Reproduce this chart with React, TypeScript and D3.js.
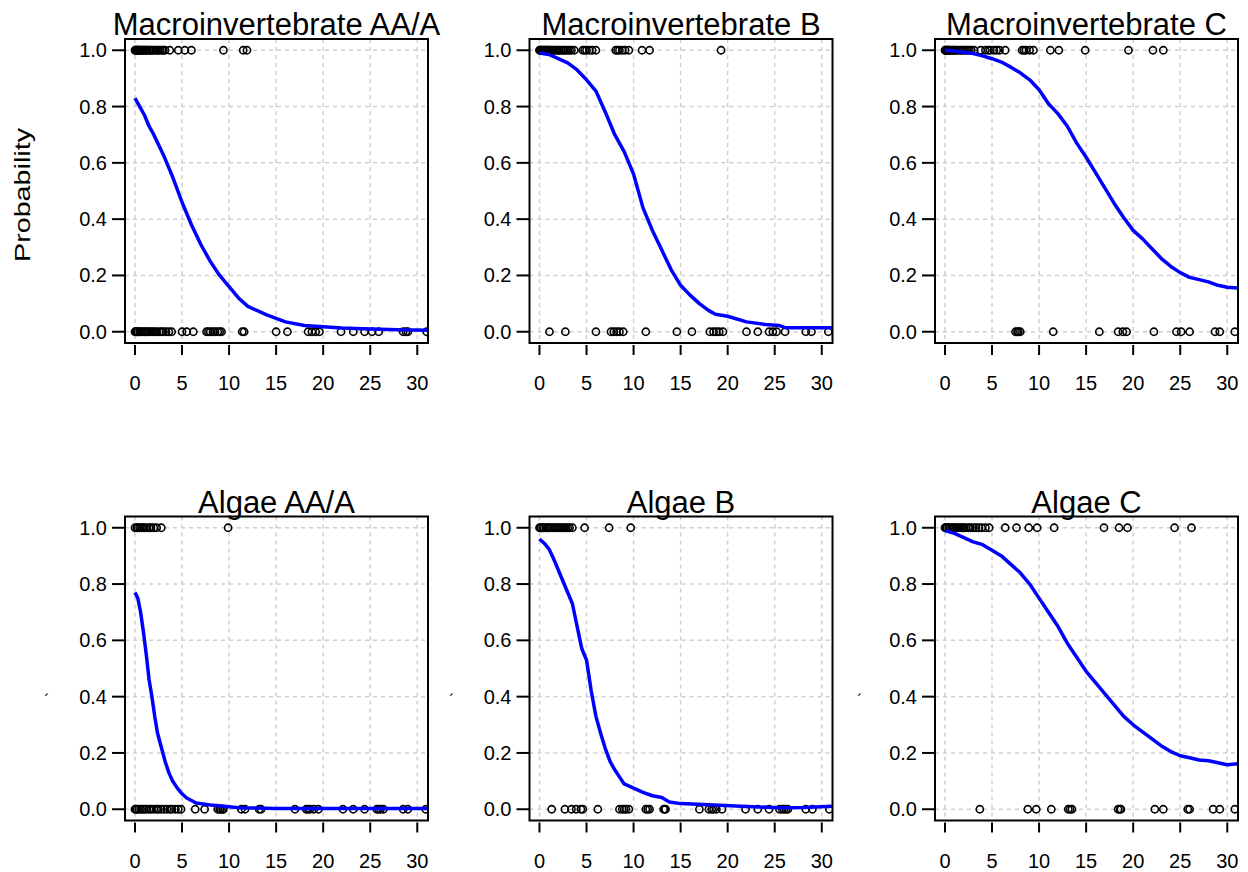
import React from "react";
import * as d3 from "d3";

// ---------- data ----------
const titles = ["Macroinvertebrate AA/A", "Macroinvertebrate B", "Macroinvertebrate C", "Algae AA/A", "Algae B", "Algae C"];
const xTicks = [0, 5, 10, 15, 20, 25, 30];
const yTicks = [0, 0.2, 0.4, 0.6, 0.8, 1.0];
const yTickLabels = ["0.0", "0.2", "0.4", "0.6", "0.8", "1.0"];

const macroAA_present = [0,0.05,0.1,0.2,0.25,0.3,0.4,0.5,0.6,0.7,0.8,0.9,1.0,1.1,1.2,1.3,1.5,1.6,1.7,1.9,2.0,2.2,2.4,2.5,2.7,2.9,3.0,3.2,3.7,4.6,5.3,6.0,9.4,11.5,11.9];
const macroAA_absent = [0,0.1,0.2,0.3,0.5,0.6,0.8,1.0,1.1,1.3,1.5,1.7,1.9,2.1,2.3,2.6,2.8,3.0,3.3,3.6,3.9,5.0,5.5,6.2,7.6,7.8,8.0,8.3,8.5,8.8,9.0,9.2,11.4,11.6,15.0,16.2,18.4,18.8,19.2,19.6,21.9,23.2,24.4,25.2,25.9,28.5,28.8,29.0,31.0];
const macroAA_curveX = [0,0.5,1,1.5,2,3,4,5,6,7,8,9,10,11,12,14,16,18,20,22,25,28,31.2];
const macroAA_curveY = [0.83,0.80,0.77,0.73,0.70,0.63,0.55,0.46,0.38,0.31,0.25,0.20,0.16,0.12,0.09,0.06,0.035,0.022,0.018,0.013,0.01,0.007,0.005];

const macroB_present = [0,0.05,0.1,0.2,0.3,0.4,0.5,0.6,0.7,0.8,0.9,1.0,1.1,1.2,1.4,1.5,1.7,1.8,2.0,2.1,2.3,2.5,2.6,2.8,3.0,3.2,3.4,3.7,4.6,4.8,5.0,5.3,5.6,6.0,8.1,8.3,8.5,8.8,9.1,9.5,10.9,11.7,19.3];
const macroB_absent = [1.06,2.75,6.0,7.6,7.9,8.2,8.5,8.9,11.3,14.6,16.2,18.1,18.5,18.8,19.1,19.5,22.0,23.2,24.4,24.8,25.2,26.1,28.3,28.9,30.7];
const macroB_curveX = [0,1,2,3,4,5,6,7,8,9,10,11,12,13,14,15,16,17,18,18.7,20,22,24,25.5,26.2,31.2];
const macroB_curveY = [0.99,0.985,0.97,0.955,0.93,0.895,0.855,0.78,0.70,0.64,0.56,0.44,0.36,0.29,0.22,0.165,0.13,0.10,0.075,0.062,0.055,0.035,0.026,0.022,0.014,0.014];

const macroC_present = [0,0.05,0.1,0.2,0.3,0.4,0.5,0.6,0.8,0.9,1.0,1.2,1.3,1.5,1.7,1.8,2.0,2.2,2.4,2.6,2.8,3.1,3.8,4.3,4.6,4.8,5.2,5.5,5.8,6.4,8.2,8.4,8.6,9.0,9.4,11.2,12.1,14.9,19.5,22.1,23.2];
const macroC_absent = [7.5,7.7,7.8,8.0,11.5,16.4,18.4,18.9,19.3,22.2,24.6,25.1,26.0,28.7,29.2,30.8];
const macroC_curveX = [0,1,2,3,4,5,6,7,8,9,10,11,12,13,14,15,16,17,18,19,20,21,22,23,24,25,26,27,28,29,30,31.2];
const macroC_curveY = [1.0,0.997,0.993,0.988,0.98,0.97,0.958,0.94,0.92,0.895,0.86,0.81,0.775,0.73,0.67,0.62,0.565,0.51,0.455,0.405,0.36,0.33,0.295,0.26,0.232,0.21,0.193,0.185,0.177,0.165,0.158,0.155];

const algaeAA_present = [0,0.2,0.3,0.5,0.7,0.9,1.0,1.2,1.5,1.7,2.0,2.3,2.8,9.9];
const algaeAA_absent = [0,0.1,0.2,0.4,0.6,0.8,1.0,1.2,1.5,1.7,2.0,2.3,2.5,2.8,3.1,3.4,3.7,3.9,4.3,4.6,4.9,6.4,7.4,8.8,9.0,9.1,9.3,9.4,11.3,11.7,13.2,13.4,17.0,18.2,18.4,18.6,19.0,19.5,22.1,23.2,24.4,25.7,25.9,26.1,26.4,28.5,29.0,30.9];
const algaeAA_curveX = [0,0.3,0.6,0.9,1.2,1.5,1.8,2.1,2.4,2.8,3.2,3.6,4.0,4.5,5,5.5,6.5,8,9.5,11,15,20,25,31.2];
const algaeAA_curveY = [0.77,0.75,0.70,0.63,0.55,0.46,0.40,0.33,0.27,0.22,0.17,0.13,0.10,0.075,0.055,0.04,0.022,0.015,0.011,0.005,0.003,0.003,0.003,0.003];

const algaeB_present = [0,0.1,0.2,0.4,0.5,0.7,0.9,1.0,1.2,1.4,1.6,1.8,2.0,2.2,2.4,2.6,2.8,3.0,3.2,3.5,4.8,7.4,9.7];
const algaeB_absent = [1.3,2.7,3.4,3.9,4.4,4.6,6.2,8.5,8.8,9.0,9.2,9.5,11.3,11.5,11.7,13.2,13.3,13.4,17.0,18.0,18.3,18.5,18.8,19.4,21.9,23.2,24.4,25.5,25.8,26.0,26.2,26.4,28.3,29.0,30.8];
const algaeB_curveX = [0,0.5,1,1.5,2,2.5,3,3.5,4,4.5,5,5.5,6,6.5,7,7.5,8,8.5,9,10,11,12,13,13.8,15,18,22,25.5,28,31.2];
const algaeB_curveY = [0.96,0.945,0.925,0.89,0.85,0.81,0.77,0.73,0.65,0.57,0.53,0.42,0.33,0.27,0.215,0.17,0.14,0.115,0.09,0.075,0.06,0.048,0.042,0.026,0.02,0.016,0.01,0.005,0.006,0.011];

const algaeC_present = [0,0.1,0.2,0.4,0.5,0.7,0.9,1.0,1.2,1.4,1.6,1.8,2.0,2.2,2.5,2.7,3.0,3.3,3.6,3.9,4.3,4.7,6.4,7.6,8.9,9.8,11.6,16.9,18.5,19.4,24.4,26.2];
const algaeC_absent = [3.7,8.8,9.7,11.3,13.1,13.3,13.5,18.4,18.6,18.7,22.3,23.2,25.8,26.0,28.5,29.2,30.8];
const algaeC_curveX = [0,1,2,3,4,5,6,7,8,9,10,11,12,13,14,15,16,17,18,19,20,21,22,23,24,25,26,27,28,29,30,31.2];
const algaeC_curveY = [0.99,0.98,0.965,0.95,0.94,0.92,0.9,0.87,0.84,0.8,0.75,0.7,0.65,0.59,0.54,0.49,0.45,0.41,0.37,0.33,0.30,0.275,0.25,0.225,0.205,0.19,0.183,0.175,0.172,0.165,0.158,0.162];

const presentSets = [macroAA_present, macroB_present, macroC_present, algaeAA_present, algaeB_present, algaeC_present];
const absentSets = [macroAA_absent, macroB_absent, macroC_absent, algaeAA_absent, algaeB_absent, algaeC_absent];
const curveXs = [macroAA_curveX, macroB_curveX, macroC_curveX, algaeAA_curveX, algaeB_curveX, algaeC_curveX];
const curveYs = [macroAA_curveY, macroB_curveY, macroC_curveY, algaeAA_curveY, algaeB_curveY, algaeC_curveY];

// ---------- layout ----------
const W = 1248, H = 872;
const boxLefts = [125, 529.5, 935];
const boxTops = [39, 516.5];
const boxW = 303, boxH = 304;
const FONT = "'Liberation Sans', Arial, Helvetica, sans-serif";

function Panel({ idx }: { idx: number }) {
  const col = idx % 3, row = Math.floor(idx / 3);
  const left = boxLefts[col], top = boxTops[row];
  const x = d3.scaleLinear().domain([-1.06, 31.14]).range([left, left + boxW]);
  const y = d3.scaleLinear().domain([-0.04, 1.04]).range([top + boxH, top]);
  const line = d3.line<[number, number]>().x(d => x(d[0])).y(d => y(d[1])).curve(d3.curveLinear);
  const cx = curveXs[idx], cy = curveYs[idx];
  const pts: [number, number][] = cx.map((v, i) => [v, cy[i]]);
  const bottom = top + boxH;
  return (
    <g>
      <defs>
        <clipPath id={`clip${idx}`}>
          <rect x={left} y={top} width={boxW} height={boxH} />
        </clipPath>
      </defs>
      {xTicks.map(t => (
        <line key={"gx" + t} x1={x(t)} x2={x(t)} y1={top} y2={bottom} stroke="#cfcfcf" strokeWidth={1.5} strokeDasharray="4,4" />
      ))}
      {yTicks.map(t => (
        <line key={"gy" + t} x1={left} x2={left + boxW} y1={y(t)} y2={y(t)} stroke="#cfcfcf" strokeWidth={1.5} strokeDasharray="4,4" />
      ))}
      <g clipPath={`url(#clip${idx})`}>
        {presentSets[idx].map((v, i) => (
          <circle key={"p" + i} cx={x(v)} cy={y(1)} r={3.6} fill="none" stroke="#000" strokeWidth={1.6} />
        ))}
        {absentSets[idx].map((v, i) => (
          <circle key={"a" + i} cx={x(v)} cy={y(0)} r={3.6} fill="none" stroke="#000" strokeWidth={1.6} />
        ))}
        <path d={line(pts) || ""} fill="none" stroke="#0000ff" strokeWidth={3.5} strokeLinejoin="round" />
      </g>
      <rect x={left} y={top} width={boxW} height={boxH} fill="none" stroke="#000" strokeWidth={2} />
      {yTicks.map((t, i) => (
        <g key={"yt" + t}>
          <line x1={left - 13} x2={left} y1={y(t)} y2={y(t)} stroke="#000" strokeWidth={2} />
          <text x={left - 18} y={y(t) + 7} textAnchor="end" fontSize={20} fontFamily={FONT}>{yTickLabels[i]}</text>
        </g>
      ))}
      {xTicks.map(t => (
        <g key={"xt" + t}>
          <line x1={x(t)} x2={x(t)} y1={bottom + 2} y2={bottom + 12} stroke="#000" strokeWidth={2} />
          <text x={x(t)} y={bottom + 47} textAnchor="middle" fontSize={20} fontFamily={FONT}>{t}</text>
        </g>
      ))}
      <text x={left + boxW / 2} y={top - 4} textAnchor="middle" fontSize={31} fontFamily={FONT}>{titles[idx]}</text>
    </g>
  );
}

export default function App() {
  return (
    <svg width={W} height={H} style={{ position: "absolute", left: 0, top: 0, background: "#fff" }}>
      <rect x={0} y={0} width={W} height={H} fill="#fff" />
      {titles.map((_, i) => <Panel key={i} idx={i} />)}
      <text transform={`translate(30,195) rotate(-90)`} textAnchor="middle" fontSize={22} fontFamily={FONT} textLength={134} lengthAdjust="spacingAndGlyphs">Probability</text>
      {[47, 452, 860].map((px, i) => (
        <text key={i} x={px} y={706} textAnchor="middle" fontSize={16} fontFamily={FONT}>´</text>
      ))}
    </svg>
  );
}
